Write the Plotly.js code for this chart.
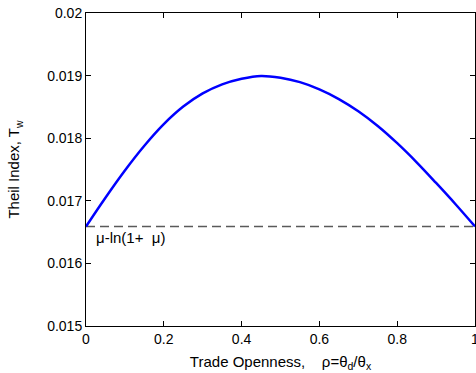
<!DOCTYPE html>
<html>
<head>
<meta charset="utf-8">
<script src="https://cdn.plot.ly/plotly-3.0.1.min.js"></script>
<style>html,body{margin:0;padding:0;background:#fff;}#chart{width:476px;height:373px;}</style>
</head>
<body>
<div id="chart"></div>
<script>
// Trade openness rho
const rho = [0, 0.05, 0.1, 0.15, 0.2, 0.25, 0.3, 0.35, 0.4, 0.45, 0.5,
             0.55, 0.6, 0.65, 0.7, 0.75, 0.8, 0.85, 0.9, 0.95, 1.0];
// Theil index T_w
const theil = [0.016590, 0.017050, 0.017485, 0.017880, 0.018225, 0.018505, 0.018715,
               0.018860, 0.018950, 0.018995, 0.018965, 0.018895, 0.018780, 0.018625,
               0.018430, 0.018195, 0.017920, 0.017615, 0.017285, 0.016945, 0.016590];
// Reference level mu - ln(1+mu)
const refX = [0, 1];
const refY = [0.01659, 0.01659];
const refLabel = "\u03bc-ln(1+\u00a0\u00a0\u03bc)";
const xTicks = [0, 0.2, 0.4, 0.6, 0.8, 1];
const xTickText = ["0", "0.2", "0.4", "0.6", "0.8", "1"];
const yTicks = [0.015, 0.016, 0.017, 0.018, 0.019, 0.02];
const yTickText = ["0.015", "0.016", "0.017", "0.018", "0.019", "0.02"];

const FONT = "Liberation Sans, Arial, Helvetica, sans-serif";

const traces = [
  {x: refX, y: refY, mode: "lines", type: "scatter",
   line: {color: "#5a5a5a", width: 1.5, dash: "9px,5px"}, hoverinfo: "skip"},
  {x: rho, y: theil, mode: "lines", type: "scatter",
   line: {color: "#0000ff", width: 2.5, shape: "spline", smoothing: 1}}
];

const axisCommon = {
  showgrid: false, zeroline: false, showline: true, linecolor: "#000", linewidth: 1,
  mirror: "allticks", ticks: "inside", ticklen: 5, tickwidth: 1, tickcolor: "#000",
  ticklabeloverflow: "allow",
  tickfont: {family: FONT, size: 14, color: "#000"}
};

const layout = {
  width: 476, height: 373,
  margin: {l: 86, r: 1, t: 13, b: 47, pad: 0},
  paper_bgcolor: "#fff", plot_bgcolor: "#fff",
  showlegend: false,
  font: {family: FONT, size: 14, color: "#000"},
  xaxis: Object.assign({}, axisCommon, {
    range: [0, 1], tickvals: xTicks, ticktext: xTickText, automargin: false,
    title: {text: "Trade Openness,\u00a0\u00a0\u00a0\u00a0\u03c1=\u03b8<sub>d</sub>/\u03b8<sub>x</sub>",
            font: {family: FONT, size: 15, color: "#000"}, standoff: 10}
  }),
  yaxis: Object.assign({}, axisCommon, {
    range: [0.015, 0.02], tickvals: yTicks, ticktext: yTickText, automargin: false,
    title: {text: "Theil Index, T<sub>w</sub>",
            font: {family: FONT, size: 15, color: "#000"}, standoff: 23}
  }),
  annotations: [
    {x: 0.02, y: refY[0], xref: "x", yref: "y", text: refLabel, showarrow: false,
     xanchor: "left", yanchor: "top", yshift: -1,
     font: {family: FONT, size: 15, color: "#000"}}
  ]
};

Plotly.newPlot("chart", traces, layout, {displayModeBar: false, staticPlot: true});
</script>
</body>
</html>
